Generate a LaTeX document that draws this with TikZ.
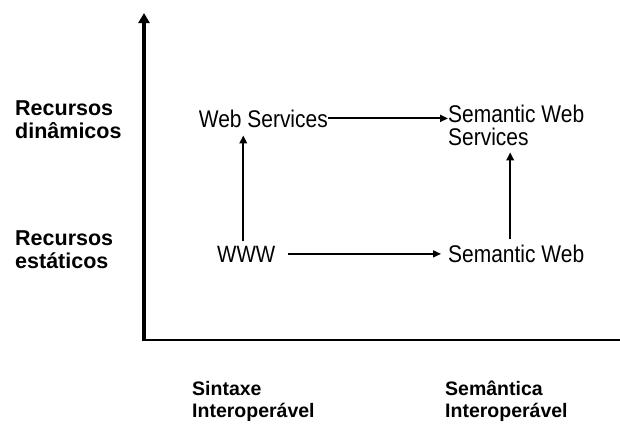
\documentclass[tikz,border=0pt]{standalone}
\usepackage{fontspec}
\setmainfont{Liberation Sans}
\newfontfamily\tallfont[FakeStretch=0.87]{Liberation Sans}
\usetikzlibrary{arrows.meta}
\tikzset{
  lbl/.style={inner sep=0pt, anchor=base west, align=left, font=\tallfont\fontsize{24.1}{23}\selectfont},
  side/.style={inner sep=0pt, anchor=base west, align=left, font=\bfseries\fontsize{21.5}{23}\selectfont},
  bottom/.style={inner sep=0pt, anchor=base west, align=left, font=\bfseries\fontsize{19.5}{22}\selectfont},
  conn/.style={line width=1.4pt, -{Triangle[length=8pt,width=7pt]}},
  connv/.style={line width=2pt, -{Triangle[length=8pt,width=7.5pt]}},
  connthick/.style={line width=2.2pt, -{Triangle[length=8pt,width=7pt]}},
  axis/.style={-{Triangle[length=10pt,width=11pt]}}
}
\begin{document}
\begin{tikzpicture}[x=1pt,y=-1pt]
\useasboundingbox (0,0) rectangle (620,423);
% axes
\coordinate (o) at (144,340);
\coordinate (ytop) at (144,13);
\coordinate (xend) at (630,340);
\draw[axis, line width=3.5pt] (o) -- (ytop);
\draw[axis, line width=2.4pt] ([xshift=-1.75pt]o) -- (xend);
% side labels (base = last line)
\node[side] (din) at (15,138) {Recursos\\dinâmicos};
\node[side] (est) at (15,268) {Recursos\\estáticos};
\node[bottom] (sin) at (192,417) {Sintaxe\\Interoperável};
\node[bottom] (sem) at (445,417) {Semântica\\Interoperável};
% nodes
\node[lbl, anchor=base east] (ws) at (328,127) {Web Services};
\node[lbl] (sws) at (448,145) {Semantic Web\\Services};
\node[lbl, font=\tallfont\fontsize{23.6}{23}\selectfont] (www) at (217,262) {WWW};
\node[lbl] (sw) at (448,262) {Semantic Web};
% connectors
\draw[connthick] (ws.east) -- (ws.east -| sw.west);
\draw[conn] ([xshift=12pt]www.east) -- ([xshift=-7pt]www.east -| sw.west);
\draw[connv] ([xshift=-3pt,yshift=5pt]www.north) -- ([xshift=-3pt,yshift=-8pt]www.north |- ws.south);
\draw[connv] ([xshift=-6pt,yshift=5pt]sw.north) -- ([xshift=-6pt,yshift=-7pt]sw.north |- sws.south);
\end{tikzpicture}
\end{document}
